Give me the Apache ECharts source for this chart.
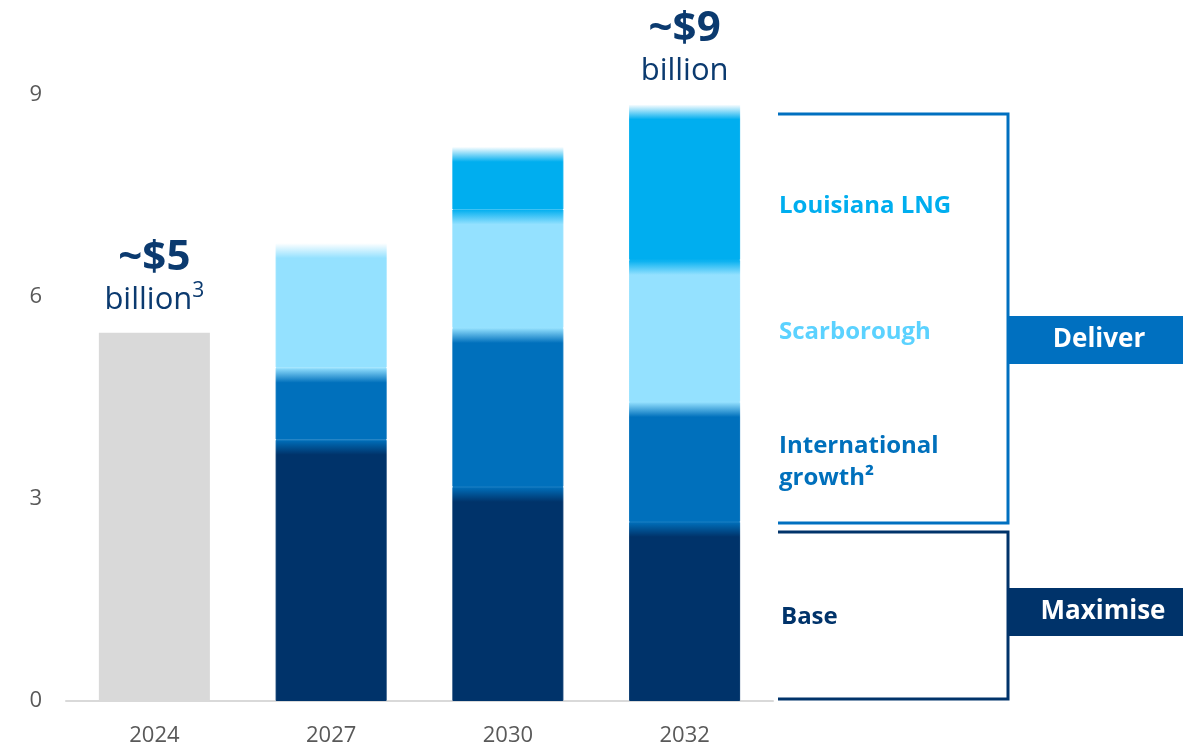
<!DOCTYPE html>
<html>
<head>
<meta charset="utf-8">
<script src="https://cdn.jsdelivr.net/npm/echarts@6/dist/echarts.min.js"></script>
<style>
html,body{margin:0;padding:0;background:#fff;}
#main{width:1183px;height:748px;}
</style>
</head>
<body>
<div id="main"></div>
<script>
var categories = ['2024', '2027', '2030', '2032'];
var total2024 = [5.47, null, null, null];
var baseVals = [null, 3.88, 3.18, 2.66];
var intlVals = [null, 1.07, 2.36, 1.78];
var scarbVals = [null, 1.85, 1.76, 2.11];
var lngVals = [null, null, 0.93, 2.31];
var yTicks = [0, 3, 6, 9];
var topLabels = [
  {cat: '2024', value: 5.47, big: '~$5', small: 'billion', sup: '3'},
  {cat: '2032', value: 8.86, big: '~$9', small: 'billion', sup: ''}
];

var COLORS = {base: '#00336A', intl: '#0070BC', scarb: '#94E1FF', lng: '#00AEEF', gray: '#D9D9D9'};
var FONT = '"Open Sans", "Noto Sans", sans-serif';

var chart = echarts.init(document.getElementById('main'), null, {renderer: 'canvas'});
var gridTop = 95, gridBottom = 47;
var pxPerUnit = (748 - gridTop - gridBottom) / 9;
var FADE = 15;

var stackOrder = [
  {key: 'base', vals: baseVals},
  {key: 'intl', vals: intlVals},
  {key: 'scarb', vals: scarbVals},
  {key: 'lng', vals: lngVals}
];

function buildData(idx) {
  var s = stackOrder[idx];
  return s.vals.map(function (v, i) {
    if (v == null) return null;
    var above = 'rgba(255,255,255,1)';
    for (var k = idx + 1; k < stackOrder.length; k++) {
      if (stackOrder[k].vals[i] != null) { above = COLORS[stackOrder[k].key]; break; }
    }
    var f = Math.min(0.5, FADE / (v * pxPerUnit));
    var grad = new echarts.graphic.LinearGradient(0, 0, 0, 1, [
      {offset: 0, color: above},
      {offset: f, color: COLORS[s.key]},
      {offset: 1, color: COLORS[s.key]}
    ]);
    return {
      value: v,
      itemStyle: {color: grad, borderColor: grad, borderWidth: 1}
    };
  });
}

var series = [{
  name: 'Total 2024', type: 'bar', stack: 'a', barWidth: 111,
  data: total2024, itemStyle: {color: COLORS.gray}
}];
stackOrder.forEach(function (s, idx) {
  series.push({name: s.key, type: 'bar', stack: 'a', barWidth: 111, data: buildData(idx)});
});
series.push({
  name: 'labels', type: 'scatter', symbolSize: 0, silent: true,
  itemStyle: {opacity: 1},
  data: topLabels.map(function (t) { return {value: [t.cat, t.value], lab: t}; }),
  label: {
    show: true, position: 'top', distance: 14, opacity: 1,
    formatter: function (p) {
      var t = p.data.lab;
      return '{big|' + t.big + '}\n{small|' + t.small + '}' + (t.sup ? '{sup|' + t.sup + '}' : '');
    },
    rich: {
      big: {fontFamily: FONT, fontSize: 42, fontWeight: 'bold', color: '#0B3A6F', lineHeight: 46, align: 'center'},
      small: {fontFamily: FONT, fontSize: 31, color: '#0B3A6F', lineHeight: 38},
      sup: {fontFamily: FONT, fontSize: 21, color: '#0B3A6F', lineHeight: 38, padding: [0, 0, 18, 0]}
    }
  }
});

var graphics = [
  {type: 'polyline', shape: {points: [[778, 114], [1008, 114], [1008, 523], [778, 523]]},
   style: {stroke: '#0070C0', lineWidth: 3, fill: null}},
  {type: 'polyline', shape: {points: [[778, 532], [1008, 532], [1008, 699], [778, 699]]},
   style: {stroke: '#00336A', lineWidth: 3, fill: null}},
  {type: 'rect', shape: {x: 1008, y: 316, width: 175, height: 48}, style: {fill: '#0070C0'}},
  {type: 'rect', shape: {x: 1008, y: 588, width: 175, height: 48}, style: {fill: '#00336A'}},
  {type: 'text', x: 1099, y: 340, style: {text: 'Deliver', fill: '#fff', font: 'bold 26px ' + FONT, align: 'center', verticalAlign: 'middle'}},
  {type: 'text', x: 1103, y: 612, style: {text: 'Maximise', fill: '#fff', font: 'bold 26px ' + FONT, align: 'center', verticalAlign: 'middle'}},
  {type: 'text', x: 779, y: 206, style: {text: 'Louisiana LNG', fill: '#00AEEF', font: 'bold 24px ' + FONT, verticalAlign: 'middle'}},
  {type: 'text', x: 779, y: 332, style: {text: 'Scarborough', fill: '#5BD2FF', font: 'bold 24px ' + FONT, verticalAlign: 'middle'}},
  {type: 'text', x: 779, y: 446, style: {text: 'International', fill: '#0070BC', font: 'bold 24px ' + FONT, verticalAlign: 'middle'}},
  {type: 'text', x: 779, y: 478, style: {text: 'growth\u00B2', fill: '#0070BC', font: 'bold 24px ' + FONT, verticalAlign: 'middle'}},
  {type: 'text', x: 781, y: 617, style: {text: 'Base', fill: '#00336A', font: 'bold 24px ' + FONT, verticalAlign: 'middle'}}
];

chart.setOption({
  animation: false,
  backgroundColor: '#fff',
  grid: {left: 66, right: 410, top: gridTop, bottom: gridBottom, containLabel: false},
  xAxis: {
    type: 'category', data: categories,
    axisLine: {lineStyle: {color: '#D9D9D9', width: 2}},
    axisTick: {show: false},
    axisLabel: {color: '#595959', fontSize: 22, fontFamily: FONT, margin: 24}
  },
  yAxis: {
    type: 'value', min: 0, max: 9, interval: 3,
    axisLine: {show: false}, axisTick: {show: false}, splitLine: {show: false},
    axisLabel: {color: '#595959', fontSize: 22, fontFamily: FONT, margin: 24,
      formatter: function (v) { return yTicks.indexOf(v) >= 0 ? String(v) : ''; }}
  },
  series: series,
  graphic: graphics
});
</script>
</body>
</html>
